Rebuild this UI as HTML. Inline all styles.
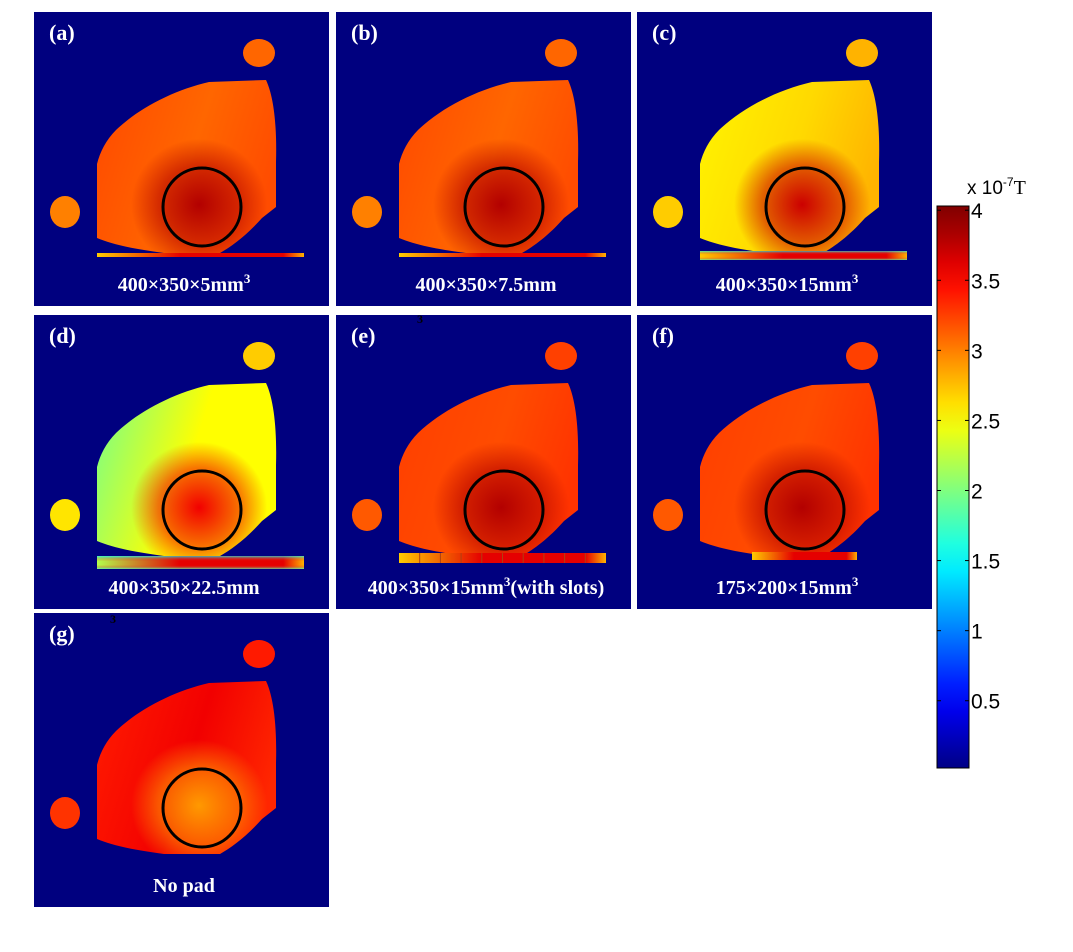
<!DOCTYPE html>
<html><head><meta charset="utf-8"><style>
body{margin:0;background:#fff;width:1073px;height:952px;overflow:hidden}
svg{display:block}
</style></head><body>
<svg id="fig" width="1073" height="952" viewBox="0 0 1073 952" xmlns="http://www.w3.org/2000/svg" font-family="Liberation Serif, serif"></svg>
<script>
const panelLabels=["(a)","(b)","(c)","(d)","(e)","(f)","(g)"];
const captions=["400×350×5mm","400×350×7.5mm","400×350×15mm","400×350×22.5mm","400×350×15mm","175×200×15mm","No pad"];
const captionSuffix=["","","","","(with slots)","",""];
const captionSup=[true,false,true,false,true,true,false];
const leftVals=[3.2,3.2,2.55,2.0,3.25,3.25,3.4];
const rightVals=[3.2,3.2,2.8,2.5,3.3,3.3,3.35];
const topVals=[3.1,3.1,2.65,2.5,3.2,3.2,3.55];
const centerVals=[3.8,3.8,3.7,3.55,3.8,3.8,2.9];
const smallVals=[3.1,3.1,2.8,2.7,3.25,3.25,3.4];
const padTypes=["thin","thin","mid","thick","slots","short","none"];
const cbTicks=[4,3.5,3,2.5,2,1.5,1,0.5];
const cbMax=4.03, cbMin=0.02;

const NS="http://www.w3.org/2000/svg";
const svg=document.getElementById('fig');
function el(t,a,p){const e=document.createElementNS(NS,t);for(const k in a)e.setAttribute(k,a[k]);(p||svg).appendChild(e);return e;}
function jet(v){const t=Math.max(0,Math.min(1,v/4));const c=x=>Math.round(255*Math.max(0,Math.min(1,1.5-Math.abs(4*t-x))));return `rgb(${c(3)},${c(2)},${c(1)})`;}
const origins=[[34,12],[336,12],[637,12],[34,315],[336,315],[637,315],[34,613]];
const defs=el('defs',{});
origins.forEach((o,i)=>{
  const [ox,oy]=o;
  const g=el('g',{transform:`translate(${ox},${oy})`});
  
  
  el('rect',{x:0,y:0,width:295,height:294,fill:'#00007f'},g);
  const lg=el('linearGradient',{id:'lg'+i,x1:0,y1:0.2,x2:1,y2:0.5},defs);
  el('stop',{offset:0,'stop-color':jet(leftVals[i])},lg);
  el('stop',{offset:0.55,'stop-color':jet(topVals[i])},lg);
  el('stop',{offset:1,'stop-color':jet(rightVals[i])},lg);
  const rg=el('radialGradient',{id:'rg'+i,cx:0.57,cy:0.72,r:0.38},defs);
  el('stop',{offset:0,'stop-color':jet(centerVals[i]),'stop-opacity':1},rg);
  el('stop',{offset:0.6,'stop-color':jet(centerVals[i]),'stop-opacity':0.55},rg);
  el('stop',{offset:1,'stop-color':jet(centerVals[i]),'stop-opacity':0},rg);
  const blob='M63,152 C66,140 72,128 82,118 C105,96 140,78 175,70 L232,68 C240,85 243,115 242,150 L242,195 L228,206 C212,224 198,234 186,241 L130,241 C100,237 80,233 63,226 Z';
  const b1=el('path',{d:blob,fill:`url(#lg${i})`},g);
  
  
  el('path',{d:blob,fill:`url(#rg${i})`},g);
  const s1=el('ellipse',{cx:225,cy:41,rx:16,ry:14,fill:jet(smallVals[i])},g);
  
  
  const s2=el('ellipse',{cx:31,cy:200,rx:15,ry:16,fill:jet(smallVals[i]-0.1)},g);
  
  
  const pt=padTypes[i];
  if(pt!=='none'){
    let x=63,w=207,y=241,h=4;
    if(pt==='mid'){h=9;y=239}
    if(pt==='thick'){h=13;y=241}
    if(pt==='short'){x=115;w=105;h=8;y=237}
    if(pt==='slots'){h=10;y=238}
    const vert=(pt==='thick'||pt==='mid');
    const pg=el('linearGradient',{id:'pg'+i,x1:0,y1:0,x2:1,y2:0},defs);
    el('stop',{offset:0,'stop-color':jet(pt==='thick'?2.2:2.7)},pg);
    el('stop',{offset:0.4,'stop-color':jet(3.6)},pg);
    el('stop',{offset:0.9,'stop-color':jet(3.6)},pg);
    el('stop',{offset:1,'stop-color':jet(2.8)},pg);
    const pad=el('rect',{x:x,y:y,width:w,height:h,fill:`url(#pg${i})`},g);
    
    
    if(vert){
      const vg=el('linearGradient',{id:'vg'+i,x1:0,y1:0,x2:0,y2:1},defs);
      el('stop',{offset:0,'stop-color':jet(1.5),'stop-opacity':0.7},vg);
      el('stop',{offset:0.4,'stop-color':jet(3.5),'stop-opacity':0},vg);
      el('stop',{offset:0.7,'stop-color':jet(3.5),'stop-opacity':0},vg);
      el('stop',{offset:1,'stop-color':jet(1.8),'stop-opacity':0.8},vg);
      el('rect',{x:x,y:y,width:w,height:h,fill:`url(#vg${i})`},g);
    }
    if(pt==='slots'){for(let k=1;k<10;k++)el('line',{x1:x+k*w/10,y1:y,x2:x+k*w/10,y2:y+h,stroke:'#b04010','stroke-width':1},g);}
  }
  const c=el('circle',{cx:168,cy:195,r:39,fill:'none',stroke:'#000','stroke-width':3},g);
  
  
  const t=el('text',{x:15,y:28,fill:'#fff','font-size':22,'font-weight':'bold'},g);
  t.textContent=panelLabels[i];
  
  
  const cp=el('text',{x:150,y:279,fill:'#fff','font-size':20,'font-weight':'bold','text-anchor':'middle'},g);
  cp.textContent=captions[i];
  if(captionSup[i]){const s=el('tspan',{dy:-8,'font-size':13},cp);s.textContent='3';const s2=el('tspan',{dy:8},cp);s2.textContent=captionSuffix[i];}
  
  
});
[[417,323],[110,623]].forEach(p=>{const t=el('text',{x:p[0],y:p[1],'font-size':12,'font-weight':'bold',fill:'#000'});t.textContent='3';});
const cbTop=206,cbBot=768,cbX=937,cbW=32;
const yv=v=>cbBot-(v-cbMin)/(cbMax-cbMin)*(cbBot-cbTop);
const cg=el('linearGradient',{id:'cbg',x1:0,y1:1,x2:0,y2:0},defs);
for(let k=0;k<=20;k++){const v=cbMin+(cbMax-cbMin)*k/20;el('stop',{offset:k/20,'stop-color':jet(v)},cg);}
const cb=el('rect',{x:cbX,y:cbTop,width:cbW,height:cbBot-cbTop,fill:'url(#cbg)',stroke:'#000','stroke-width':1});


cbTicks.forEach(v=>{
  const y=yv(v);
  el('line',{x1:cbX,y1:y,x2:cbX+4,y2:y,stroke:'#000'});
  el('line',{x1:cbX+cbW-4,y1:y,x2:cbX+cbW,y2:y,stroke:'#000'});
  const t=el('text',{x:cbX+cbW+2,y:y+8,'font-size':21,'font-family':'Liberation Sans, sans-serif',fill:'#000'});
  t.textContent=String(v);
  
  
});
const u=el('text',{x:967,y:194,'font-size':19,'font-family':'Liberation Sans, sans-serif',fill:'#000'});


u.textContent='x 10';
const sp=el('tspan',{dy:-8,'font-size':12},u);sp.textContent='-7';
const tt=el('tspan',{dy:8,'font-family':'Liberation Serif, serif','font-size':20},u);tt.textContent='T';
</script>
</body></html>
